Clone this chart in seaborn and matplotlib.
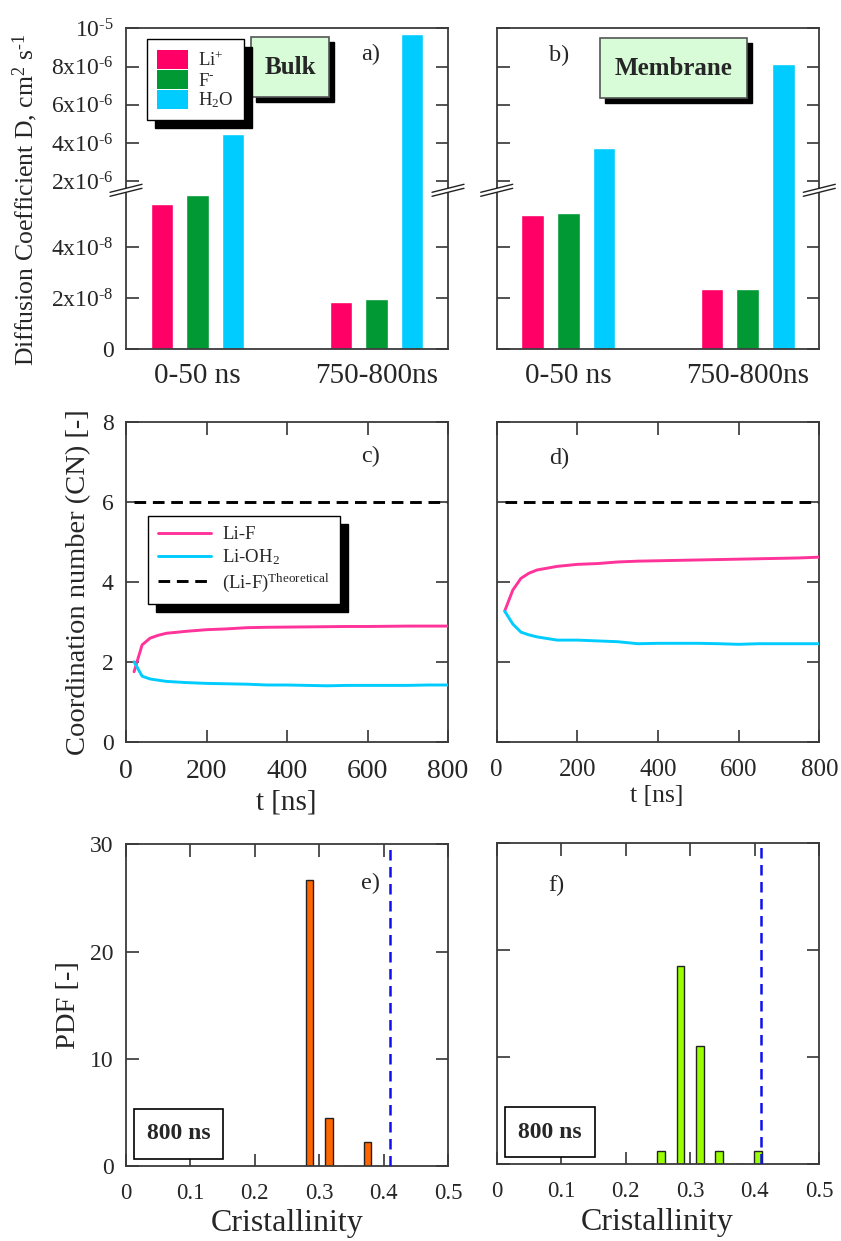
import numpy as np
import pandas as pd
import matplotlib
matplotlib.use("Agg")
import matplotlib.pyplot as plt
import seaborn as sns
from matplotlib.patches import Rectangle, Patch, Polygon
from matplotlib.lines import Line2D
import matplotlib.transforms as mtransforms

# ---------------- data ----------------
periods = ["0-50 ns", "750-800ns"]
species = ["Li+", "F-", "H2O"]
species_labels = [r"Li$^{+}$", r"F$^{\text{-}}$", r"H$_2$O"]
species_colors = ["#ff0066", "#009933", "#00ccff"]

bulk_li = [5.68e-8, 1.85e-8]
bulk_f = [6.03e-8, 1.96e-8]
bulk_h2o = [4.48e-6, 9.70e-6]
memb_li = [5.25e-8, 2.36e-8]
memb_f = [5.32e-8, 2.36e-8]
memb_h2o = [3.75e-6, 8.14e-6]

low_ticks = [0, 2e-8, 4e-8]
low_labels = ["0", r"2x10$^{\text{-}8}$", r"4x10$^{\text{-}8}$"]
up_ticks = [2e-6, 4e-6, 6e-6, 8e-6, 1e-5]
up_labels = [r"2x10$^{\text{-}6}$", r"4x10$^{\text{-}6}$", r"6x10$^{\text{-}6}$",
             r"8x10$^{\text{-}6}$", r"10$^{\text{-}5}$"]

t_ns = [20, 40, 60, 80, 100, 150, 200, 250, 300, 350, 400, 450, 500, 550, 600, 650, 700, 750, 800]
cn_lif_bulk = [1.76, 2.43, 2.60, 2.67, 2.72, 2.77, 2.81, 2.83, 2.86, 2.87, 2.875, 2.88, 2.885, 2.89, 2.89, 2.895, 2.90, 2.90, 2.90]
cn_lioh_bulk = [2.01, 1.65, 1.58, 1.55, 1.52, 1.49, 1.47, 1.46, 1.45, 1.43, 1.43, 1.42, 1.41, 1.42, 1.42, 1.42, 1.42, 1.43, 1.43]
cn_lif_memb = [3.28, 3.80, 4.09, 4.22, 4.30, 4.39, 4.44, 4.46, 4.50, 4.52, 4.53, 4.54, 4.55, 4.56, 4.57, 4.58, 4.59, 4.60, 4.62]
cn_lioh_memb = [3.27, 2.95, 2.75, 2.68, 2.63, 2.55, 2.55, 2.53, 2.51, 2.46, 2.47, 2.47, 2.47, 2.46, 2.445, 2.46, 2.46, 2.46, 2.46]
theo_t = [20, 800]
theo_cn = [6, 6]

cryst_bulk = [0.285, 0.315, 0.345, 0.375]
pdf_bulk = [26.7, 4.44, 0.0, 2.22]
cryst_memb = [0.255, 0.285, 0.315, 0.345, 0.375, 0.405]
pdf_memb = [1.23, 18.5, 11.1, 1.23, 0.0, 1.23]
cryst_ref = 0.41

# ---------------- style ----------------
sns.set_theme(style="ticks")
plt.rcParams["font.family"] = ["Liberation Serif", "DejaVu Serif"]
plt.rcParams["mathtext.fontset"] = "custom"
plt.rcParams["mathtext.rm"] = "Liberation Serif"
plt.rcParams["mathtext.it"] = "Liberation Serif:italic"
plt.rcParams["mathtext.bf"] = "Liberation Serif:bold"

W, H = 841, 1241
fig = plt.figure(figsize=(W / 100, H / 100), dpi=100)
fig.patch.set_facecolor("white")


def add_ax(x0, y0, x1, y1):
    return fig.add_axes([x0 / W, 1 - y1 / H, (x1 - x0) / W, (y1 - y0) / H])


SPINE = "#3a3a3a"


def style_ax(ax, ylab_size=17, xlab_size=17):
    for sp in ax.spines.values():
        sp.set_color(SPINE)
        sp.set_linewidth(1.3)
    ax.tick_params(axis="both", which="both", direction="in", length=9, width=1.3,
                   color="#444444", top=True, right=True, bottom=True, left=True)
    ax.tick_params(axis="y", labelsize=ylab_size, pad=9)
    ax.tick_params(axis="x", labelsize=xlab_size, pad=12)
    ax.grid(False)
    ax.set_facecolor("white")


def bar_df(li, f, h2o):
    rows = []
    for sp, vals in zip(species, [li, f, h2o]):
        for p, v in zip(periods, vals):
            rows.append({"period": p, "species": sp, "D": v})
    return pd.DataFrame(rows)


def bar_panel(x0, x1, df, show_labels):
    ysplit = 188.3
    ax_up = add_ax(x0, 28.3, x1, ysplit)
    ax_lo = add_ax(x0, ysplit, x1, 349.3)
    for ax in (ax_up, ax_lo):
        sns.barplot(data=df, x="period", y="D", hue="species", hue_order=species,
                    order=periods, palette=species_colors, saturation=1, width=0.6,
                    gap=0.38, legend=False, ax=ax, err_kws={"linewidth": 0})
        style_ax(ax)
        ax.set_xlim(-0.4, 1.4)
        ax.set_xlabel("")
        ax.set_ylabel("")
        ax.tick_params(axis="x", length=0)
    ax_up.set_ylim(1.64e-6, 1e-5)
    ax_up.set_yticks(up_ticks)
    ax_up.set_xticks([])
    ax_up.spines["bottom"].set_visible(False)
    ax_lo.set_ylim(0, 6.29e-8)
    ax_lo.set_yticks(low_ticks)
    ax_lo.spines["top"].set_visible(False)
    ax_lo.set_xticks([0, 1])
    ax_lo.set_xticklabels(periods, fontsize=21)
    ax_lo.tick_params(axis="x", pad=10)
    if show_labels:
        ax_up.set_yticklabels(up_labels)
        ax_lo.set_yticklabels(low_labels)
    else:
        ax_up.set_yticklabels([])
        ax_lo.set_yticklabels([])
    # break marks (figure pixel coordinates)
    for xc in (x0, x1):
        yc = ysplit + 1.5
        p1 = [(xc - 16, yc + 6.5), (xc + 16, yc - 1.5)]
        p2 = [(xc - 16, yc + 2.5), (xc + 16, yc - 5.5)]
        to_f = lambda pts: [(px / W, 1 - py / H) for px, py in pts]
        poly = Polygon(to_f([p1[0], p1[1], p2[1], p2[0]]), closed=True, facecolor="white",
                       edgecolor="none", transform=fig.transFigure, zorder=20)
        fig.add_artist(poly)
        for pts in (p1, p2):
            pf = to_f(pts)
            fig.add_artist(Line2D([pf[0][0], pf[1][0]], [pf[0][1], pf[1][1]], color="#222222",
                                  lw=1.0, transform=fig.transFigure, zorder=21))
    return ax_up, ax_lo


def shadow_box(ax, x, y, w, h, text, fc, fontsize, ec="#555555", off=5, bold=True, shadow=True):
    if shadow:
        tr = mtransforms.offset_copy(ax.transAxes, fig=fig, x=off, y=-off, units="dots")
        ax.add_patch(Rectangle((x, y), w, h, transform=tr, facecolor="black",
                               edgecolor="black", lw=1, zorder=8, clip_on=False))
    ax.add_patch(Rectangle((x, y), w, h, transform=ax.transAxes, facecolor=fc,
                           edgecolor=ec, lw=1.2, zorder=9, clip_on=False))
    ax.text(x + w / 2, y + h / 2, text, transform=ax.transAxes, ha="center", va="center",
            fontsize=fontsize, fontweight="bold" if bold else "normal", zorder=10)


# ---------------- panels a, b ----------------
a_up, a_lo = bar_panel(126, 448, bar_df(bulk_li, bulk_f, bulk_h2o), True)
b_up, b_lo = bar_panel(496.7, 819.3, bar_df(memb_li, memb_f, memb_h2o), False)

a_lo.set_ylabel(r"Diffusion Coefficient D, cm$^{2}$ s$^{\text{-}1}$", fontsize=18.5)
a_lo.yaxis.set_label_coords(-0.266, 0.927)

handles = [Patch(facecolor=c, edgecolor="none") for c in species_colors]
leg = a_up.legend(handles, species_labels, loc="upper left", bbox_to_anchor=(0.065, 0.931),
                  fontsize=13.5, frameon=True, fancybox=False, edgecolor="black", framealpha=1,
                  handlelength=1.65, handleheight=1.2, labelspacing=0.0, handletextpad=0.55,
                  borderpad=0.55, borderaxespad=0,
                  shadow={"ox": 5.5, "oy": -5.5, "facecolor": "black", "edgecolor": "black", "alpha": 1})
leg.get_frame().set_linewidth(1.0)
leg.set_zorder(12)

shadow_box(a_up, 0.388, 0.570, 0.242, 0.374, "Bulk", "#d7fcd7", 18)
shadow_box(b_up, 0.320, 0.563, 0.456, 0.374, "Membrane", "#d7fcd7", 18)
a_up.text(0.761, 0.838, "a)", transform=a_up.transAxes, ha="center", va="center", fontsize=17.5)
b_up.text(0.193, 0.830, "b)", transform=b_up.transAxes, ha="center", va="center", fontsize=17.5)

# ---------------- panels c, d ----------------
LIF_C = "#ff3399"
LIOH_C = "#00ccff"
dash = (0, (4, 2.3))


def cn_panel(x0, x1, lif, lioh, with_legend):
    ax = add_ax(x0, 421.7, x1, 742.3)
    sns.lineplot(x=theo_t, y=theo_cn, color="black", lw=2.1, linestyle=dash, ax=ax,
                 label=r"(Li-F)$^{\mathrm{Theoretical}}$" if with_legend else None, zorder=2)
    sns.lineplot(x=t_ns, y=lif, color=LIF_C, lw=2.1, ax=ax,
                 label="Li-F" if with_legend else None, zorder=3)
    sns.lineplot(x=t_ns, y=lioh, color=LIOH_C, lw=2.1, ax=ax,
                 label=r"Li-OH$_2$" if with_legend else None, zorder=3)
    style_ax(ax)
    ax.set_xlim(0, 800)
    ax.set_ylim(0, 8)
    ax.set_xticks([0, 200, 400, 600, 800])
    ax.set_yticks([0, 2, 4, 6, 8])
    return ax


ax_c = cn_panel(126, 448, cn_lif_bulk, cn_lioh_bulk, True)
ax_d = cn_panel(496.7, 819.3, cn_lif_memb, cn_lioh_memb, False)

h, l = ax_c.get_legend_handles_labels()
order = [1, 2, 0]
legc = ax_c.legend([h[i] for i in order], [l[i] for i in order], loc="upper left",
                   bbox_to_anchor=(0.068, 0.707), fontsize=13.5, frameon=True, fancybox=False,
                   edgecolor="black", framealpha=1, handlelength=2.8, handletextpad=0.6,
                   borderpad=0.55, labelspacing=0.22, borderaxespad=0,
                   shadow={"ox": 6, "oy": -6, "facecolor": "black", "edgecolor": "black", "alpha": 1})
legc.get_frame().set_linewidth(1.0)

ax_c.tick_params(axis="x", labelsize=20)
ax_c.set_xlabel("t [ns]", fontsize=21)
ax_c.xaxis.set_label_coords(0.499, -0.146)
ax_c.set_ylabel("Coordination number (CN) [-]", fontsize=20.5)
ax_c.yaxis.set_label_coords(-0.109, 0.5)
ax_c.text(0.761, 0.891, "c)", transform=ax_c.transAxes, ha="center", va="center", fontsize=17.5)

ax_d.tick_params(axis="x", labelsize=18)
ax_d.set_yticklabels([])
ax_d.set_xlabel("t [ns]", fontsize=18.5)
ax_d.xaxis.set_label_coords(0.497, -0.133)
ax_d.set_ylabel("")
ax_d.text(0.193, 0.884, "d)", transform=ax_d.transAxes, ha="center", va="center", fontsize=17.5)

# ---------------- panels e, f ----------------
def pdf_panel(x0, y0, x1, y1, xs, ys, color):
    ax = add_ax(x0, y0, x1, y1)
    sns.barplot(x=xs, y=ys, native_scale=True, orient="x", width=0.4, color=color,
                saturation=1, edgecolor="#222222", linewidth=1.0, ax=ax,
                err_kws={"linewidth": 0})
    ax.axvline(cryst_ref, color="#1010ee", lw=1.8, linestyle=(0, (4.2, 2.6)), zorder=5)
    style_ax(ax)
    ax.set_xlim(0, 0.5)
    ax.set_ylim(0, 30)
    ax.set_xticks([0, 0.1, 0.2, 0.3, 0.4, 0.5])
    ax.set_xticklabels(["0", "0.1", "0.2", "0.3", "0.4", "0.5"])
    ax.set_yticks([0, 10, 20, 30])
    ax.tick_params(axis="x", labelsize=16.5)
    ax.set_xlabel("Cristallinity", fontsize=23)
    return ax


ax_e = pdf_panel(126, 844.3, 448, 1166, cryst_bulk, pdf_bulk, "#ff6600")
ax_f = pdf_panel(496.7, 843.3, 819.3, 1164.3, cryst_memb, pdf_memb, "#99ff00")

ax_e.xaxis.set_label_coords(0.50, -0.134)
ax_e.set_ylabel("PDF [-]", fontsize=20.5)
ax_e.yaxis.set_label_coords(-0.14, 0.5)
ax_e.text(0.76, 0.878, "e)", transform=ax_e.transAxes, ha="center", va="center", fontsize=17.5)
shadow_box(ax_e, 0.025, 0.022, 0.277, 0.155, "800 ns", "white", 17, ec="black", shadow=False)

ax_f.xaxis.set_label_coords(0.497, -0.136)
ax_f.set_ylabel("")
ax_f.set_yticklabels([])
ax_f.text(0.185, 0.87, "f)", transform=ax_f.transAxes, ha="center", va="center", fontsize=17.5)
shadow_box(ax_f, 0.025, 0.022, 0.279, 0.155, "800 ns", "white", 17, ec="black", shadow=False)

fig.savefig("out.png", dpi=100, facecolor="white")
